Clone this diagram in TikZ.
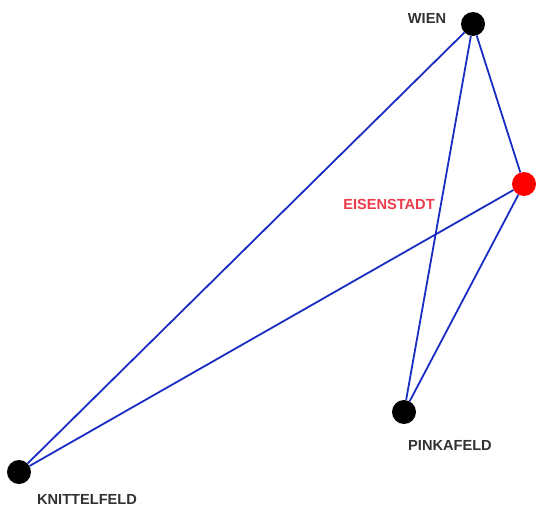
\documentclass[tikz,border=0pt]{standalone}
\usepackage{fontspec}
\setmainfont{Liberation Sans}
\definecolor{edgeblue}{RGB}{25,45,195}
\definecolor{capred}{RGB}{235,60,75}
\definecolor{labelgray}{RGB}{50,50,50}
\tikzset{
  town/.style={circle, minimum size=24pt, inner sep=0pt, fill},
  townlabel/.style={font=\bfseries\fontsize{14.6}{16}\selectfont, text=labelgray},
  road/.style={edgeblue, line width=1.8pt}
}
\begin{document}
\begin{tikzpicture}[x=1pt,y=-1pt]
\useasboundingbox (0,0) rectangle (536,511);
\node[town] (wien) at (473,24){};
\node[town, fill=red] (eisen) at (524,184){};
\node[town] (pinka) at (404,412){};
\node[town] (knitt) at (19,472){};
\node[townlabel] (lwien) at (427,18){WIEN};
\node[townlabel, text=capred] (leisen) at (389,204){EISENSTADT};
\node[townlabel] (lpinka) at (450,445){PINKAFELD};
\node[townlabel] (lknitt) at (87,499){KNITTELFELD};
\draw[road](wien) -- (knitt);
\draw[road](wien) -- (pinka);
\draw[road](wien) -- (eisen);
\draw[road](eisen) -- (knitt);
\draw[road](eisen) -- (pinka);
\end{tikzpicture}
\end{document}
